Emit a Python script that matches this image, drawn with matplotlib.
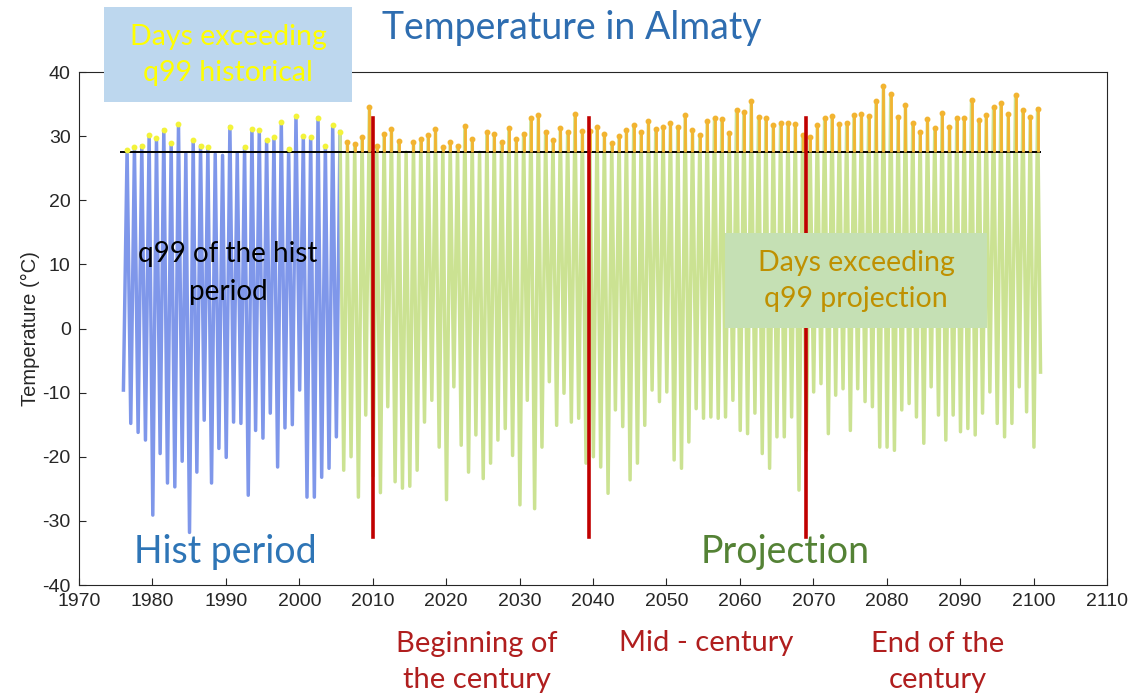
import numpy as np
import matplotlib.pyplot as plt
from matplotlib.patches import Rectangle

plt.rcParams['axes.unicode_minus'] = False

# annual extremes of daily temperature (deg C)
hist_years = np.arange(1976, 2006)
hist_min = [-9.6, -14.8, -16.2, -17.4, -29.1, -19.5, -24.1, -24.7, -20.7, -31.8,
            -22.4, -14.3, -24.1, -18.7, -20.1, -14.6, -14.8, -26.0, -15.9, -17.1,
            -13.2, -21.6, -15.5, -15.0, -9.6, -26.3, -26.3, -23.2, -21.8, -16.9]
hist_max = [27.9, 28.3, 28.5, 30.2, 29.7, 31.0, 28.9, 31.9, 27.3, 29.4,
            28.5, 28.3, 27.2, 27.0, 31.5, 27.4, 28.3, 31.1, 31.0, 29.4,
            29.8, 32.2, 28.0, 33.1, 30.0, 29.8, 32.9, 28.5, 31.7, 30.7]

proj_years = np.arange(2006, 2101)
proj_min = [-22.1, -20.0, -26.3, -13.5, -23.0, -25.6, -12.2, -23.9, -24.9, -24.6,
            -22.1, -14.6, -11.2, -18.5, -26.7, -9.1, -18.2, -22.4, -16.6, -23.4,
            -21.0, -17.4, -15.6, -19.8, -27.5, -11.2, -28.1, -18.5, -8.3, -15.1,
            -10.1, -14.6, -14.0, -21.0, -20.0, -21.6, -25.7, -12.7, -15.3, -23.6,
            -21.0, -15.1, -9.6, -11.4, -9.9, -20.5, -21.8, -17.7, -12.5, -14.0,
            -13.8, -14.0, -13.8, -11.2, -15.9, -16.4, -13.2, -19.5, -21.8, -16.9,
            -16.9, -13.8, -25.2, -19.0, -9.9, -8.6, -16.4, -10.4, -9.4, -15.9,
            -9.4, -11.4, -12.2, -18.5, -18.5, -19.0, -12.7, -11.7, -13.8, -17.9,
            -9.1, -13.5, -17.4, -13.5, -16.1, -15.6, -16.6, -13.2, -9.9, -14.8,
            -16.9, -14.8, -9.1, -13.0, -18.5]
proj_max = [29.1, 28.8, 29.8, 34.6, 28.5, 30.4, 31.1, 29.2, 27.5, 29.1,
            29.5, 30.2, 31.1, 28.3, 29.1, 28.5, 31.6, 29.6, 27.5, 30.6,
            30.3, 29.1, 31.2, 29.5, 30.4, 32.9, 33.3, 30.7, 29.4, 31.3,
            30.6, 33.4, 30.8, 30.8, 31.5, 30.4, 28.9, 30.0, 31.0, 31.7,
            30.7, 32.3, 31.1, 31.5, 32.1, 31.4, 33.3, 31.0, 30.2, 32.3,
            32.8, 32.6, 30.5, 34.1, 33.7, 35.4, 33.0, 32.8, 31.7, 32.0,
            32.0, 31.9, 30.2, 29.9, 31.7, 32.8, 33.1, 31.9, 32.1, 33.3,
            33.4, 33.1, 35.5, 37.8, 36.6, 33.0, 34.9, 32.0, 30.7, 32.6,
            31.2, 33.6, 31.5, 32.9, 32.9, 35.7, 32.5, 33.3, 34.5, 35.1,
            33.4, 36.4, 34.1, 33.0, 34.3]
record_end = 2100.95
record_end_temp = -6.8

q99_hist = 27.6
period_marks = [2010, 2039.5, 2069]
period_labels = ['Beginning of\nthe century', 'Mid - century', 'End of the\ncentury']

BLUE = '#7F97EA'
GREEN = '#CBE292'
YELLOW = '#F3F33A'
ORANGE = '#F2B431'


def zigzag(years, tmin, tmax):
    # january minimum, july maximum of every year
    x = np.column_stack([years + 0.05, years + 0.55]).ravel()
    y = np.column_stack([tmin, tmax]).ravel()
    return x, y


W, H = 1132, 697
fig = plt.figure(figsize=(W / 100, H / 100), dpi=100)


def px(x, y):
    return x / W, 1 - y / H


ax = fig.add_axes([79 / W, 1 - 585 / H, (1107 - 79) / W, (585 - 72) / H])

hx, hy = zigzag(hist_years, hist_min, hist_max)
ax.plot(hx, hy, color=BLUE, lw=2.5, zorder=2)
gx, gy = zigzag(proj_years, proj_min, proj_max)
gx = np.concatenate([[hx[-1]], gx, [record_end]])
gy = np.concatenate([[hy[-1]], gy, [record_end_temp]])
ax.plot(gx, gy, color=GREEN, lw=2.5, zorder=2)

ax.hlines(q99_hist, hist_years[0] - 0.4, record_end, color='black', lw=1.4, zorder=3)

# days above the historical q99
hmax = np.array(hist_max)
sel = hmax > q99_hist
ax.plot(hist_years[sel] + 0.55, hmax[sel], 'o', color=YELLOW, ms=3.2, zorder=4)
pmax = np.array(proj_max)
sel = pmax > q99_hist
ax.vlines(proj_years[sel] + 0.55, q99_hist, pmax[sel], color=ORANGE, lw=2, zorder=4)
ax.plot(proj_years[sel] + 0.55, pmax[sel], 'o', color=ORANGE, ms=3.2, zorder=4)

for xm in period_marks:
    ax.plot([xm, xm], [32.8, -32.5], color='#C00000', lw=2.6, zorder=5)

ax.set_xlim(1970, 2110)
ax.set_ylim(-40, 40)
ax.set_xticks(np.arange(1970, 2111, 10))
ax.set_yticks(np.arange(-40, 41, 10))
ax.tick_params(direction='in', length=5, labelsize=14, colors='#262626', pad=6)
for s in ax.spines.values():
    s.set_color('#262626')
    s.set_linewidth(0.8)
for lab in ax.get_xticklabels() + ax.get_yticklabels():
    lab.set_family('Liberation Sans')
ax.set_ylabel('Temperature (\u00b0C)', fontsize=14.5, family='Liberation Sans',
              color='#262626', labelpad=2)

# slide annotations
font = 'Lato'
fig.text(*px(572, 28), 'Temperature in Almaty', ha='center', va='center',
         fontsize=27, color='#2E6DB0', family=font)

fig.patches.append(Rectangle(px(104, 102), 248 / W, 95 / H, transform=fig.transFigure,
                             facecolor='#BDD7EE', edgecolor='none', zorder=6))
fig.text(*px(228, 55), 'Days exceeding\nq99 historical', ha='center', va='center',
         fontsize=20.5, color='#FFFF00', family=font, linespacing=1.5, zorder=7)

fig.patches.append(Rectangle(px(725, 328), 262 / W, 95 / H, transform=fig.transFigure,
                             facecolor='#C5E0B4', edgecolor='none', zorder=6))
fig.text(*px(856, 281), 'Days exceeding\nq99 projection', ha='center', va='center',
         fontsize=20.5, color='#BF9000', family=font, linespacing=1.5, zorder=7)

fig.text(*px(228, 273), 'q99 of the hist\nperiod', ha='center', va='center',
         fontsize=20, color='black', family=font, linespacing=1.55, zorder=7)

fig.text(*px(225, 552), 'Hist period', ha='center', va='center',
         fontsize=27, color='#2E75B6', family=font, zorder=7)
fig.text(*px(785, 552), 'Projection', ha='center', va='center',
         fontsize=27, color='#548235', family=font, zorder=7)

for xc, lab in zip([477, 706, 938], period_labels):
    yc = 643 if '\n' not in lab else 662
    fig.text(*px(xc, yc), lab, ha='center', va='center', fontsize=21,
             color='#B01E1E', family=font, linespacing=1.5)

fig.savefig('out.png', dpi=100)
